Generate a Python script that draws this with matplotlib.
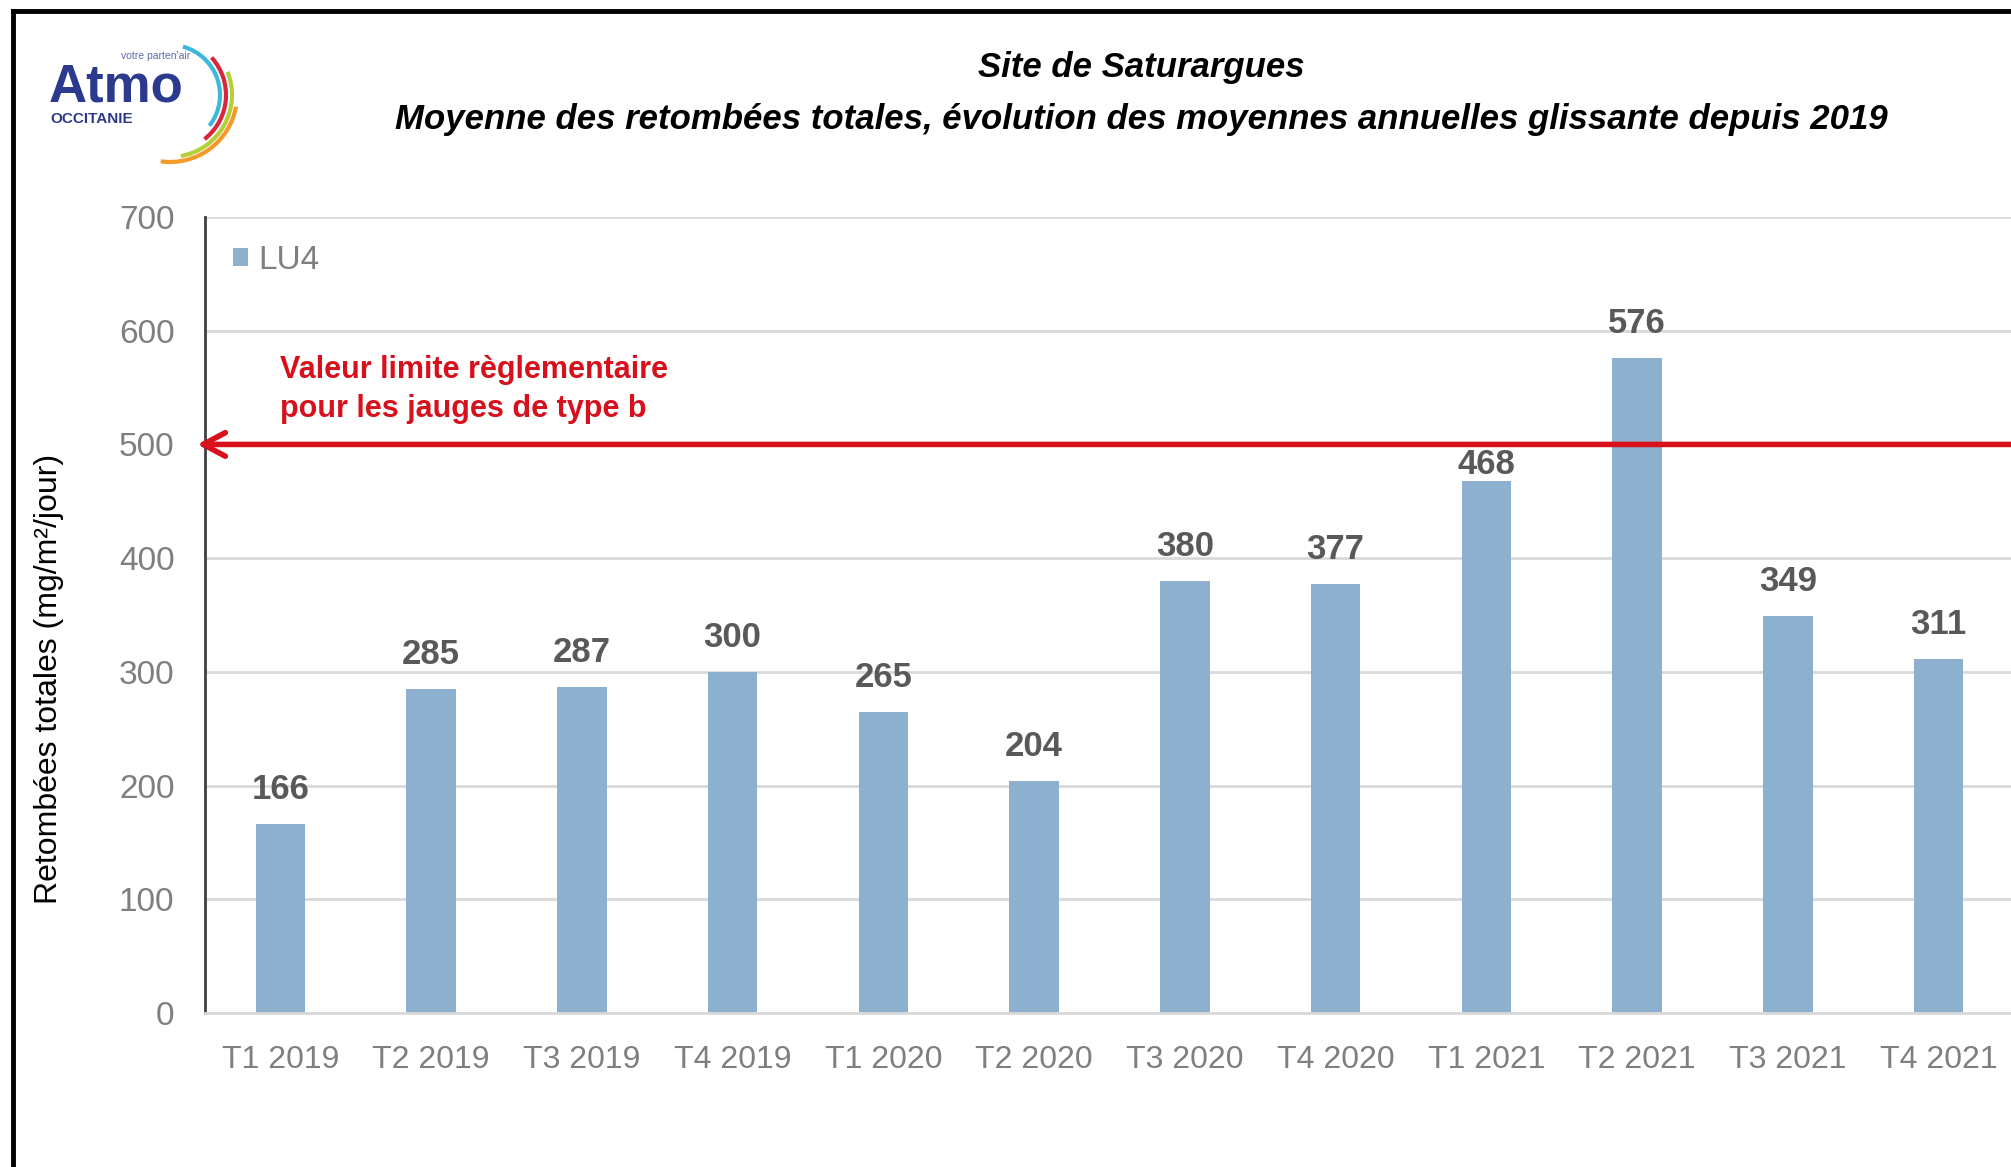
"""
Atmo Occitanie - Saturargues, retombées totales (LU4), moyennes annuelles glissantes.
"""
import matplotlib; matplotlib.use('Agg')
import matplotlib.pyplot as plt
from matplotlib import font_manager
from matplotlib.patches import Arc
from matplotlib.lines import Line2D

# --- data ---
quarters = ['T1 2019', 'T2 2019', 'T3 2019', 'T4 2019', 'T1 2020', 'T2 2020',
            'T3 2020', 'T4 2020', 'T1 2021', 'T2 2021', 'T3 2021', 'T4 2021']
lu4 = [166, 285, 287, 300, 265, 204, 380, 377, 468, 576, 349, 311]
limit_value = 500
y_ticks = [0, 100, 200, 300, 400, 500, 600, 700]

title_1 = 'Site de Saturargues'
title_2 = 'Moyenne des retombées totales, évolution des moyennes annuelles glissante depuis 2019'
limit_text = 'Valeur limite règlementaire\npour les jauges de type b'
y_label = 'Retombées totales (mg/m²/jour)'

names = {f.name for f in font_manager.fontManager.ttflist}
NARROW = 'Liberation Sans Narrow' if 'Liberation Sans Narrow' in names else 'Liberation Sans'
plt.rcParams['font.family'] = [NARROW, 'DejaVu Sans']

BAR = '#8DB0CE'; GREY = '#7F7F7F'; DARK = '#595959'; RED = '#D7101C'; BLUE = '#2B3A8F'
W, H = 2011, 1167
fig = plt.figure(figsize=(W/100, H/100), dpi=100)

# main chart, placed in pixel terms of the reference
ax = fig.add_axes([205/W, 1-1013/H, 1809/W, (1013-217)/H])
x = range(len(quarters))
bars = ax.bar(x, lu4, width=0.33, color=BAR, label='LU4', zorder=2)
ax.set_xlim(-0.5, 11.5); ax.set_ylim(0, 700)
ax.set_yticks(y_ticks)
ax.set_xticks(list(x)); ax.set_xticklabels(quarters)
ax.tick_params(axis='y', length=0, pad=22, labelsize=24, labelcolor=GREY)
ax.tick_params(axis='x', length=0, pad=23, labelsize=23, labelcolor=GREY)
ax.yaxis.grid(True, color='#D9D9D9', lw=2, zorder=0); ax.set_axisbelow(True)
for s in ['top', 'right']: ax.spines[s].set_visible(False)
ax.spines['left'].set_color('#404040'); ax.spines['left'].set_linewidth(2)
ax.spines['bottom'].set_color('#D9D9D9'); ax.spines['bottom'].set_linewidth(2)
ax.set_ylabel(y_label, fontsize=23, color='black')
ax.yaxis.set_label_coords(-0.078, 0.42)

# value labels (the T1 2021 one sits lower, tucked under the limit line)
for i, (b, v) in enumerate(zip(bars, lu4)):
    off = 0 if i == 8 else 13
    ax.annotate(str(v), (b.get_x()+b.get_width()/2, v), xytext=(0, off), textcoords='offset points',
                ha='center', va='bottom', fontsize=25, fontweight='bold', color=DARK, zorder=3)

# regulatory limit: red arrow pointing at the y axis
ax.annotate('', xy=(-0.57, limit_value), xytext=(11.6, limit_value),
            arrowprops=dict(arrowstyle='->,head_length=1.6,head_width=0.85', color=RED, lw=4),
            annotation_clip=False, zorder=4)
ax.text(0.0, 548, limit_text, color=RED, fontsize=22, fontweight='bold', va='center', ha='left',
        linespacing=1.38)

leg = ax.legend(loc='upper left', bbox_to_anchor=(0.0, 1.0), frameon=False, fontsize=24,
                handlelength=0.45, handleheight=0.45, handletextpad=0.3, borderaxespad=0.45)
for t in leg.get_texts(): t.set_color(GREY)

fig.text(1141/W, 1-68/H, title_1, ha='center', va='center', fontsize=25,
         fontweight='bold', style='italic')
fig.text(1141/W, 1-119/H, title_2, ha='center', va='center', fontsize=25,
         fontweight='bold', style='italic')

# overlay in pixel units for frame and logo
ov = fig.add_axes([0, 0, 1, 1], facecolor='none')
ov.set_xlim(0, W); ov.set_ylim(H, 0); ov.axis('off')
ov.add_line(Line2D([13, 13], [11, H], color='black', lw=3.5))
ov.add_line(Line2D([13, W], [11, 11], color='black', lw=3.5))
ov.text(49, 101, 'Atmo', fontsize=38, fontweight='bold', color=BLUE, family='Liberation Sans', va='baseline')
ov.text(50, 119, 'OCCITANIE', fontsize=11, fontweight='bold', color=BLUE, family='Liberation Sans', va='center')
ov.text(190, 56, "votre parten'air", fontsize=7.5, color='#5B6BB0', family='Liberation Sans', va='center', ha='right')
# y axis of the overlay points down, so visual angles are negated
for r, c, a1, a2 in [(50, '#3BB8DA', -38, 75), (56, '#D7263D', -52, 42),
                     (62, '#B5CF38', -80, 22), (67, '#F39A2B', -98, -10)]:
    ov.add_patch(Arc((170, 95), 2*r, 2*r, theta1=-a2, theta2=-a1, color=c, lw=3))

fig.savefig('out.png', dpi=100)
